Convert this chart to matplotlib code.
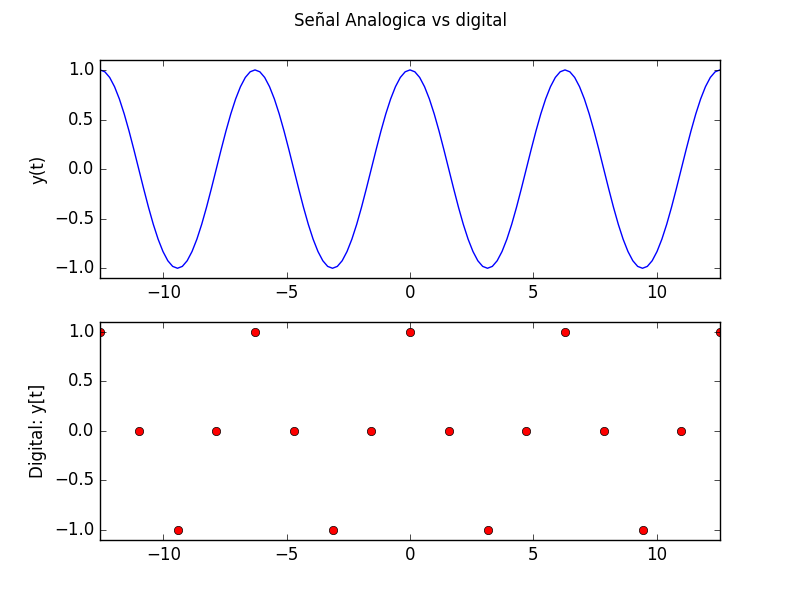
import numpy as np
import matplotlib
matplotlib.use("Agg")
import matplotlib.pyplot as plt

plt.style.use('classic')

title = "Señal Analogica vs digital"
ylabel_top = "y(t)"
ylabel_bottom = "Digital: y[t]"

# analog signal read at steps of pi/16 from -4pi to 4pi
analog_values = [
    1.0, 0.981, 0.924, 0.831, 0.707, 0.556, 0.383, 0.195,
    0.0, -0.195, -0.383, -0.556, -0.707, -0.831, -0.924, -0.981,
    -1.0, -0.981, -0.924, -0.831, -0.707, -0.556, -0.383, -0.195,
    0.0, 0.195, 0.383, 0.556, 0.707, 0.831, 0.924, 0.981,
    1.0, 0.981, 0.924, 0.831, 0.707, 0.556, 0.383, 0.195,
    0.0, -0.195, -0.383, -0.556, -0.707, -0.831, -0.924, -0.981,
    -1.0, -0.981, -0.924, -0.831, -0.707, -0.556, -0.383, -0.195,
    0.0, 0.195, 0.383, 0.556, 0.707, 0.831, 0.924, 0.981,
    1.0, 0.981, 0.924, 0.831, 0.707, 0.556, 0.383, 0.195,
    0.0, -0.195, -0.383, -0.556, -0.707, -0.831, -0.924, -0.981,
    -1.0, -0.981, -0.924, -0.831, -0.707, -0.556, -0.383, -0.195,
    0.0, 0.195, 0.383, 0.556, 0.707, 0.831, 0.924, 0.981,
    1.0, 0.981, 0.924, 0.831, 0.707, 0.556, 0.383, 0.195,
    0.0, -0.195, -0.383, -0.556, -0.707, -0.831, -0.924, -0.981,
    -1.0, -0.981, -0.924, -0.831, -0.707, -0.556, -0.383, -0.195,
    0.0, 0.195, 0.383, 0.556, 0.707, 0.831, 0.924, 0.981,
    1.0,
]
t_analog = np.linspace(-12.566, 12.566, len(analog_values))

# digital samples at steps of pi/2
digital_values = [1, 0, -1, 0, 1, 0, -1, 0, 1, 0, -1, 0, 1, 0, -1, 0, 1]
t_digital = np.linspace(-12.566, 12.566, len(digital_values))

fig = plt.figure(figsize=(8, 6), dpi=100)
fig.suptitle(title)

ax1 = fig.add_subplot(211)
ax1.plot(t_analog, analog_values, 'b-')
ax1.set_xlim(-12.566, 12.566)
ax1.set_ylim(-1.1, 1.1)
ax1.set_ylabel(ylabel_top)

ax2 = fig.add_subplot(212)
ax2.plot(t_digital, digital_values, 'ro')
ax2.set_xlim(-12.566, 12.566)
ax2.set_ylim(-1.1, 1.1)
ax2.set_ylabel(ylabel_bottom)

fig.savefig("out.png", dpi=100)
